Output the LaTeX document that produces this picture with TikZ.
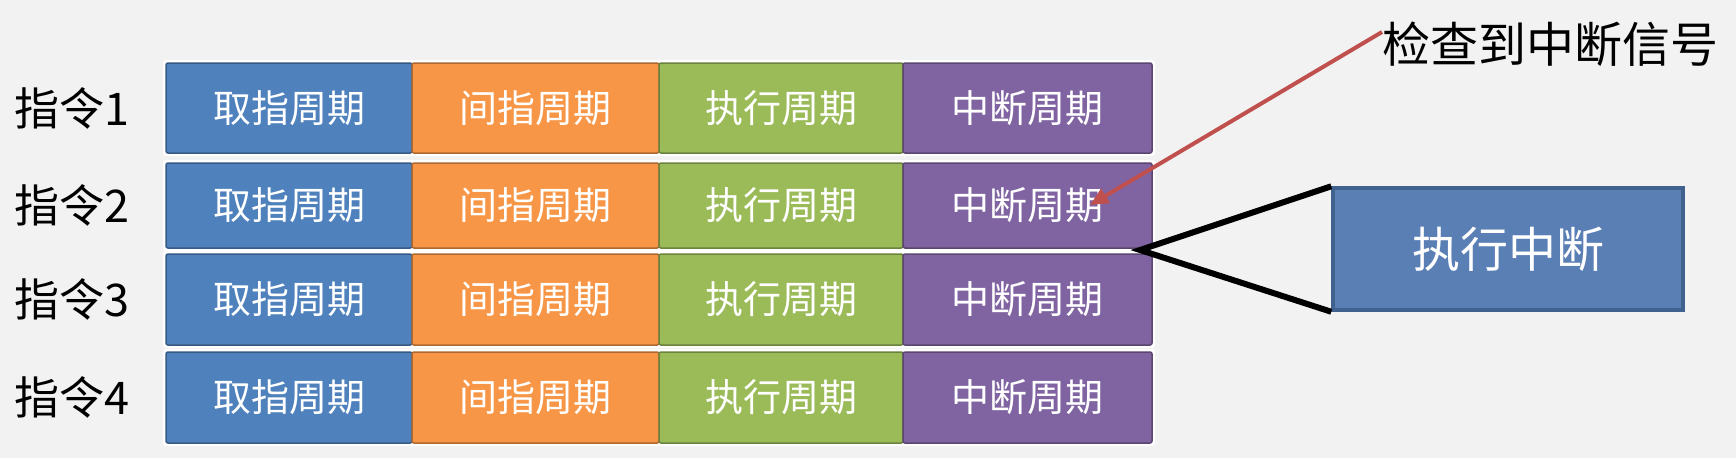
\documentclass[tikz,border=0pt]{standalone}
\usepackage{fontspec}
\setmainfont{Noto Sans CJK SC}
\usetikzlibrary{arrows.meta}
\definecolor{bg}{HTML}{F2F2F2}
\definecolor{cblue}{HTML}{4F81BD}
\definecolor{corange}{HTML}{F79646}
\definecolor{cgreen}{HTML}{9BBB59}
\definecolor{cpurple}{HTML}{8064A2}
\definecolor{eblue}{HTML}{5A7FB5}
\definecolor{eborder}{HTML}{41618F}
\definecolor{cred}{HTML}{C0504D}
\tikzset{
  cell/.style={draw=#1!70!black, fill=#1, line width=1.5pt, rounded corners=2pt,
    text=white, font=\fontsize{38}{44}\selectfont, inner sep=0pt, anchor=center},
  rowlabel/.style={font=\fontsize{45}{50}\selectfont, text=black, anchor=west, inner sep=0pt},
}
\begin{document}
\begin{tikzpicture}[x=1pt,y=-1pt]
\useasboundingbox[fill=bg] (0,0) rectangle (1736,458);
% rows: index/top/bottom
\foreach \r/\t/\b in {1/63/153,2/163/248,3/254/345,4/352/443}{
  \fill[white, rounded corners=3pt] (163,\t-3) rectangle (1155,\b+3);
  \pgfmathsetmacro{\h}{\b-\t}
  \pgfmathsetmacro{\cy}{(\t+\b)/2}
  \node[cell=cblue, minimum width=246pt, minimum height=\h pt] (r\r c1) at (289,\cy) {取指周期};
  \node[cell=corange, minimum width=247pt, minimum height=\h pt] (r\r c2) at (535.5,\cy) {间指周期};
  \node[cell=cgreen, minimum width=244pt, minimum height=\h pt] (r\r c3) at (781,\cy) {执行周期};
  \node[cell=cpurple, minimum width=249pt, minimum height=\h pt] (r\r c4) at (1027.5,\cy) {中断周期};
  \node[rowlabel] (l\r) at (14,\cy) {指令\r};
}
% execute-interrupt box
\node[draw=eborder, fill=eblue, line width=3.5pt, minimum width=350pt, minimum height=122pt,
  text=white, font=\fontsize{48}{54}\selectfont, inner sep=0pt] (exec) at (1508,249) {执行中断};
\coordinate (apex) at (1140,250);
\draw[black, line width=6pt, line join=miter] (exec.north west) -- (apex) -- (exec.south west);
% signal label and arrow
\node[font=\fontsize{48}{54}\selectfont, anchor=west, inner sep=0pt] (sig) at (1382,44) {检查到中断信号};
\coordinate (hit) at (1090,205);
\draw[cred, line width=4pt, -{Triangle[length=18pt,width=16pt]}] ([yshift=12pt]sig.west) -- (hit);
\end{tikzpicture}
\end{document}
